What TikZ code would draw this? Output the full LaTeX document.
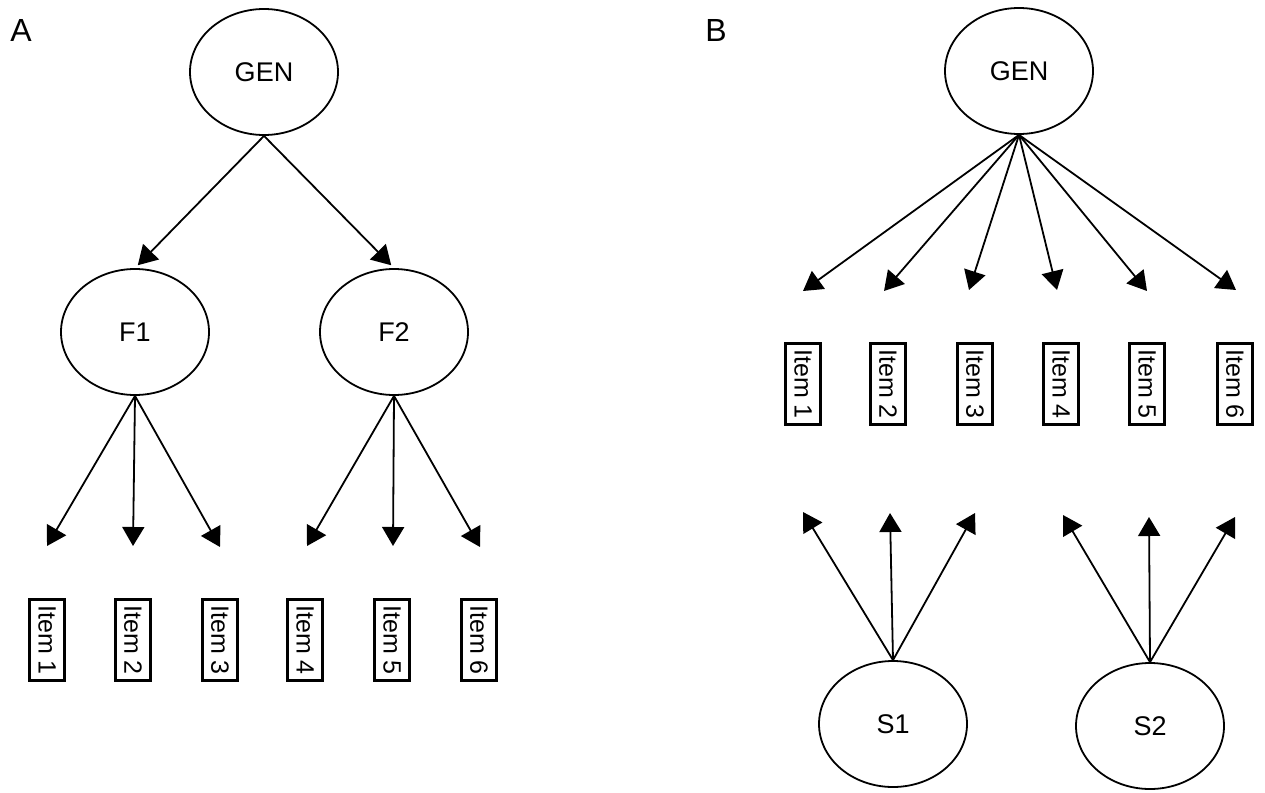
\documentclass[tikz,border=0pt]{standalone}
\usepackage{fontspec}
\setmainfont{Liberation Sans}
\usetikzlibrary{arrows.meta,shapes.geometric}

\tikzset{
  latent/.style={draw, line width=1.8pt, ellipse, minimum width=148pt, minimum height=126pt, inner sep=0pt, font=\fontsize{27}{30}\selectfont},
  item/.style={draw, line width=3.5pt, rotate=-90, minimum width=81pt, minimum height=35pt, inner sep=0pt, font=\fontsize{25}{28}\selectfont},
  load/.style={line width=1.8pt, -{Triangle[length=19pt,width=22pt]}},
  panel/.style={font=\fontsize{32}{36}\selectfont}
}

\begin{document}
\begin{tikzpicture}[x=1pt,y=-1pt]
\useasboundingbox (0,0) rectangle (1265,792);

% panel A: second order model
\node[panel] (labA) at (21,30) {A};
\node[latent] (genA) at (264,72) {GEN};
\node[latent] (f1) at (135,332) {F1};
\node[latent] (f2) at (394,332) {F2};
\node[item] (a1) at (47,640) {Item 1};
\node[item] (a2) at (133,640) {Item 2};
\node[item] (a3) at (220,640) {Item 3};
\node[item] (a4) at (305,640) {Item 4};
\node[item] (a5) at (392,640) {Item 5};
\node[item] (a6) at (479,640) {Item 6};
% arrow ends above the items
\coordinate (ta1) at (47,546);
\coordinate (ta2) at (133,546);
\coordinate (ta3) at (220,547);
\coordinate (ta4) at (307,546);
\coordinate (ta5) at (393,546);
\coordinate (ta6) at (480,547);
\draw[load, shorten >=4pt] (genA.south) -- (f1.north);
\draw[load, shorten >=4pt] (genA.south) -- (f2.north);
\draw[load] (f1.south) -- (ta1);
\draw[load] (f1.south) -- (ta2);
\draw[load] (f1.south) -- (ta3);
\draw[load] (f2.south) -- (ta4);
\draw[load] (f2.south) -- (ta5);
\draw[load] (f2.south) -- (ta6);

% panel B: bifactor model
\node[panel] (labB) at (716,30) {B};
\node[latent] (genB) at (1019,71) {GEN};
\node[item] (b1) at (803,384) {Item 1};
\node[item] (b2) at (888,384) {Item 2};
\node[item] (b3) at (975,384) {Item 3};
\node[item] (b4) at (1061,384) {Item 4};
\node[item] (b5) at (1147,384) {Item 5};
\node[item] (b6) at (1235,384) {Item 6};
\node[latent] (s1) at (893,724) {S1};
\node[latent] (s2) at (1150,726) {S2};
% arrow ends above and below the items
\coordinate (tg1) at (803,291);
\coordinate (tg2) at (884,291);
\coordinate (tg3) at (969,290);
\coordinate (tg4) at (1057,290);
\coordinate (tg5) at (1147,291);
\coordinate (tg6) at (1236,290);
\coordinate (ts1) at (803,512);
\coordinate (ts2) at (890,513);
\coordinate (ts3) at (975,513);
\coordinate (ts4) at (1063,515);
\coordinate (ts5) at (1149,517);
\coordinate (ts6) at (1235,517);
\draw[load] (genB.south) -- (tg1);
\draw[load] (genB.south) -- (tg2);
\draw[load] (genB.south) -- (tg3);
\draw[load] (genB.south) -- (tg4);
\draw[load] (genB.south) -- (tg5);
\draw[load] (genB.south) -- (tg6);
\draw[load] (s1.north) -- (ts1);
\draw[load] (s1.north) -- (ts2);
\draw[load] (s1.north) -- (ts3);
\draw[load] (s2.north) -- (ts4);
\draw[load] (s2.north) -- (ts5);
\draw[load] (s2.north) -- (ts6);
\end{tikzpicture}
\end{document}
